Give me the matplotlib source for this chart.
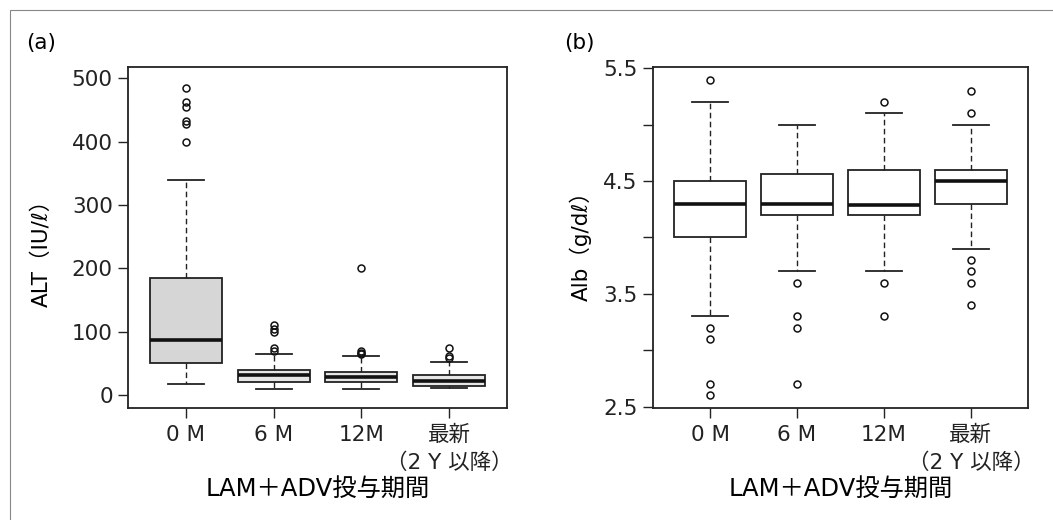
import matplotlib
matplotlib.use("Agg")
import matplotlib.pyplot as plt
from matplotlib.patches import Rectangle

plt.rcParams['font.family'] = ['DejaVu Sans', 'Noto Sans CJK JP']

# categories
groups = ['0 M', '6 M', '12M', '最新\n（2 Y 以降）']

# (a) ALT box statistics
alt_whislo = [17, 10, 10, 10.5]
alt_q1 = [50, 21, 20, 14]
alt_med = [87, 32, 29, 22.5]
alt_q3 = [185, 40, 37, 31.5]
alt_whishi = [340, 64, 62, 52.5]
alt_fliers = [[400, 428, 432, 455, 462, 485],
               [70, 74, 100, 105, 110],
               [65, 67, 69, 201],
               [58, 61, 75]]

# (b) Alb box statistics
alb_whislo = [3.3, 3.7, 3.7, 3.9]
alb_q1 = [4.0, 4.2, 4.2, 4.3]
alb_med = [4.3, 4.3, 4.29, 4.5]
alb_q3 = [4.5, 4.56, 4.6, 4.6]
alb_whishi = [5.2, 5.0, 5.1, 5.0]
alb_fliers = [[2.6, 2.7, 3.1, 3.2, 5.4],
              [2.7, 3.2, 3.3, 3.6],
              [3.3, 3.6, 5.2],
              [3.4, 3.6, 3.7, 3.8, 5.1, 5.3]]


def make_stats(lo, q1, med, q3, hi, fl):
    return [dict(whislo=a, q1=b, med=c, q3=d, whishi=e, fliers=f)
            for a, b, c, d, e, f in zip(lo, q1, med, q3, hi, fl)]


def draw(ax, stats, fills):
    bp = ax.bxp(stats, positions=range(1, len(stats) + 1), widths=0.82,
                capwidths=0.41, patch_artist=True,
                boxprops=dict(edgecolor='#222222', linewidth=1.3),
                medianprops=dict(color='#111111', linewidth=2.6),
                whiskerprops=dict(color='#222222', linewidth=1.0, linestyle=(0, (4, 2.5))),
                capprops=dict(color='#222222', linewidth=1.3),
                flierprops=dict(marker='o', markerfacecolor='none',
                                markeredgecolor='#111111', markersize=5, markeredgewidth=1.1))
    for patch, c in zip(bp['boxes'], fills):
        patch.set_facecolor(c)
    ax.set_xlim(0.34, 4.66)
    ax.set_xticks(range(1, 5))
    ax.set_xticklabels(groups, linespacing=1.45)
    ax.tick_params(axis='both', direction='out', length=7, width=1.0,
                   labelsize=15.5, colors='#222222')
    ax.tick_params(axis='x', pad=5)
    ax.tick_params(axis='y', pad=4)
    for s in ax.spines.values():
        s.set_linewidth(1.3)
        s.set_color('#222222')
    ax.set_xlabel('LAM＋ADV投与期間', fontsize=17.5)
    ax.xaxis.set_label_coords(0.5, -0.205)


fig = plt.figure(figsize=(10.53, 5.20), dpi=100)
fig.patches.append(Rectangle((0.0095, -0.01), 0.995, 0.9905, transform=fig.transFigure,
                             fill=False, edgecolor='#888888', linewidth=0.8))

ax1 = fig.add_axes([0.1216, 0.2154, 0.3599, 0.6558])
draw(ax1, make_stats(alt_whislo, alt_q1, alt_med, alt_q3, alt_whishi, alt_fliers),
     ['#d6d6d6', '#e6e6e6', '#e6e6e6', '#e6e6e6'])
ax1.set_ylim(-20.5, 518)
ax1.set_yticks([0, 100, 200, 300, 400, 500])
ax1.set_ylabel('ALT（IU/ℓ）', fontsize=15.5)
ax1.yaxis.set_label_coords(-0.2, 0.47)

ax2 = fig.add_axes([0.6198, 0.2154, 0.3567, 0.6558])
draw(ax2, make_stats(alb_whislo, alb_q1, alb_med, alb_q3, alb_whishi, alb_fliers),
     ['white', 'white', 'white', 'white'])
ax2.set_ylim(2.488, 5.512)
ax2.set_yticks([2.5, 3.0, 3.5, 4.0, 4.5, 5.0, 5.5])
ax2.set_yticklabels(['2.5', '', '3.5', '', '4.5', '', '5.5'])
ax2.set_ylabel('Alb（g/dℓ）', fontsize=15.5)
ax2.yaxis.set_label_coords(-0.162, 0.49)

fig.text(26 / 1053, 1 - 43 / 520, '(a)', fontsize=15.5, va='center', ha='left')
fig.text(564 / 1053, 1 - 43 / 520, '(b)', fontsize=15.5, va='center', ha='left')

fig.savefig('out.png', dpi=100)
